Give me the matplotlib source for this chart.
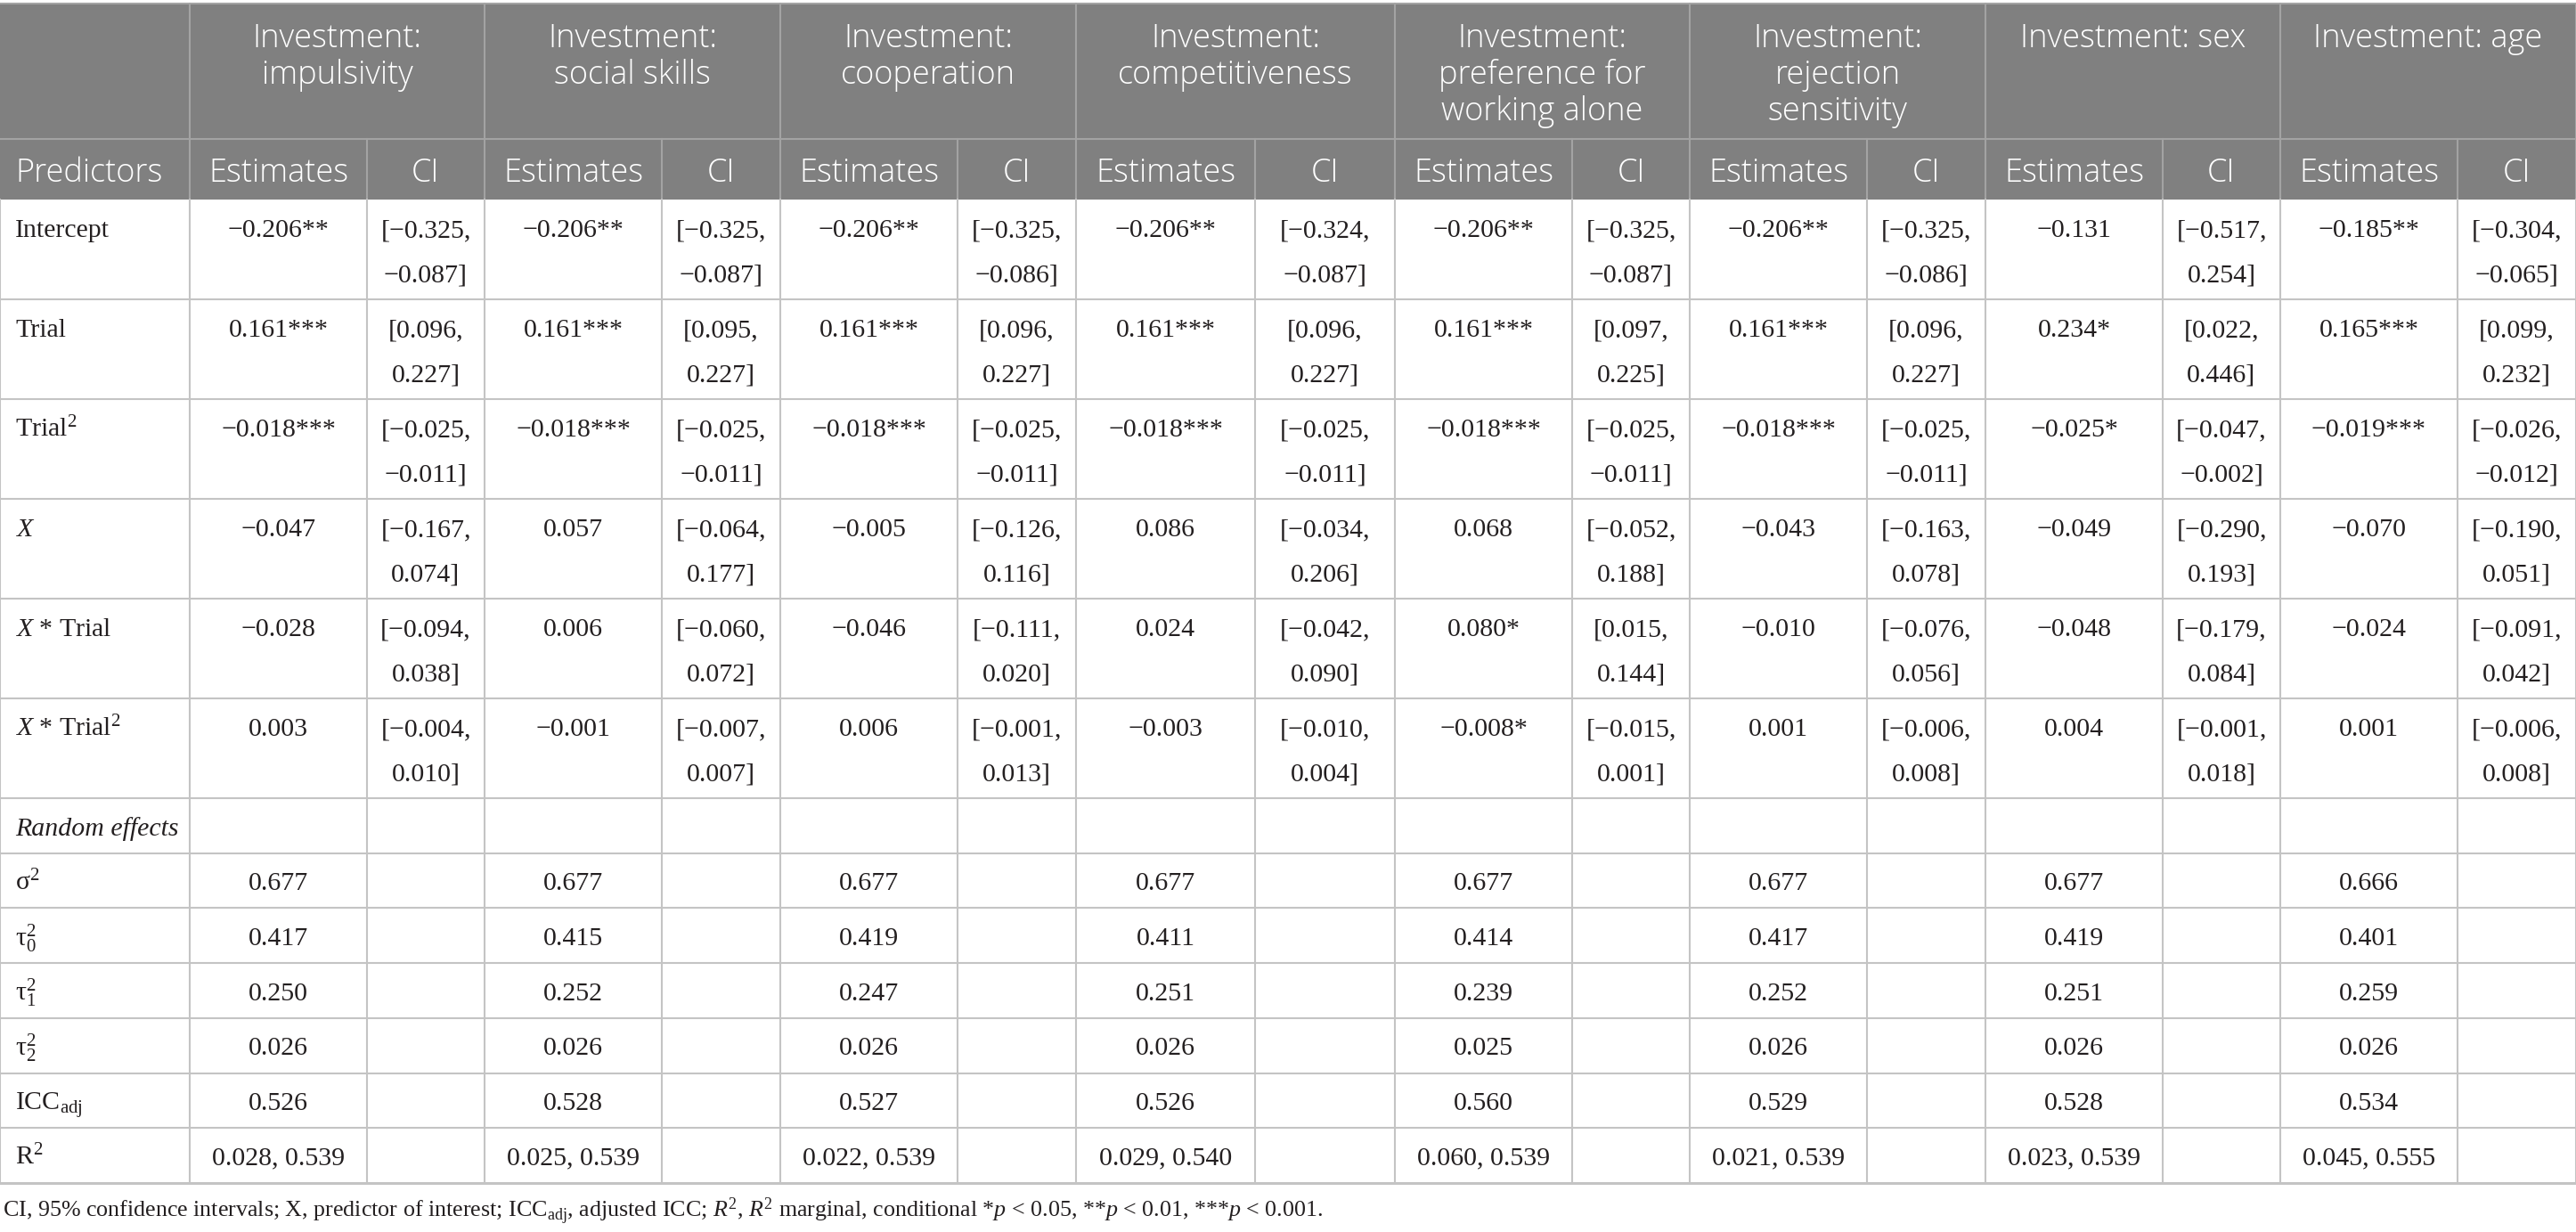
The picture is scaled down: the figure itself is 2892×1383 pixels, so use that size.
import matplotlib
matplotlib.use("Agg")
import matplotlib.pyplot as plt
from matplotlib.patches import Rectangle

plt.rcParams['mathtext.fontset'] = 'custom'
plt.rcParams['mathtext.rm'] = 'Liberation Serif'
plt.rcParams['mathtext.it'] = 'Liberation Serif:italic'
plt.rcParams['mathtext.bf'] = 'Liberation Serif:bold'

# ---------------- data ----------------
groups = [
    ["Investment:", "impulsivity"],
    ["Investment:", "social skills"],
    ["Investment:", "cooperation"],
    ["Investment:", "competitiveness"],
    ["Investment:", "preference for", "working alone"],
    ["Investment:", "rejection", "sensitivity"],
    ["Investment: sex"],
    ["Investment: age"],
]
fixed_labels = ["Intercept", "Trial", "Trial$^2$", "$X$", "$X$ * Trial", "$X$ * Trial$^2$"]

est_intercept = ["−0.206**", "−0.206**", "−0.206**", "−0.206**", "−0.206**", "−0.206**", "−0.131", "−0.185**"]
ci_intercept = [("−0.325", "−0.087"), ("−0.325", "−0.087"), ("−0.325", "−0.086"), ("−0.324", "−0.087"),
                ("−0.325", "−0.087"), ("−0.325", "−0.086"), ("−0.517", "0.254"), ("−0.304", "−0.065")]
est_trial = ["0.161***", "0.161***", "0.161***", "0.161***", "0.161***", "0.161***", "0.234*", "0.165***"]
ci_trial = [("0.096", "0.227"), ("0.095", "0.227"), ("0.096", "0.227"), ("0.096", "0.227"),
            ("0.097", "0.225"), ("0.096", "0.227"), ("0.022", "0.446"), ("0.099", "0.232")]
est_trial2 = ["−0.018***", "−0.018***", "−0.018***", "−0.018***", "−0.018***", "−0.018***", "−0.025*", "−0.019***"]
ci_trial2 = [("−0.025", "−0.011")] * 6 + [("−0.047", "−0.002"), ("−0.026", "−0.012")]
est_x = ["−0.047", "0.057", "−0.005", "0.086", "0.068", "−0.043", "−0.049", "−0.070"]
ci_x = [("−0.167", "0.074"), ("−0.064", "0.177"), ("−0.126", "0.116"), ("−0.034", "0.206"),
        ("−0.052", "0.188"), ("−0.163", "0.078"), ("−0.290", "0.193"), ("−0.190", "0.051")]
est_x_trial = ["−0.028", "0.006", "−0.046", "0.024", "0.080*", "−0.010", "−0.048", "−0.024"]
ci_x_trial = [("−0.094", "0.038"), ("−0.060", "0.072"), ("−0.111", "0.020"), ("−0.042", "0.090"),
              ("0.015", "0.144"), ("−0.076", "0.056"), ("−0.179", "0.084"), ("−0.091", "0.042")]
est_x_trial2 = ["0.003", "−0.001", "0.006", "−0.003", "−0.008*", "0.001", "0.004", "0.001"]
ci_x_trial2 = [("−0.004", "0.010"), ("−0.007", "0.007"), ("−0.001", "0.013"), ("−0.010", "0.004"),
               ("−0.015", "0.001"), ("−0.006", "0.008"), ("−0.001", "0.018"), ("−0.006", "0.008")]

random_labels = ["σ$^2$", "τ$_0^2$", "τ$_1^2$", "τ$_2^2$", "ICC$_\\mathrm{adj}$", "R$^2$"]
sigma2 = ["0.677", "0.677", "0.677", "0.677", "0.677", "0.677", "0.677", "0.666"]
tau0 = ["0.417", "0.415", "0.419", "0.411", "0.414", "0.417", "0.419", "0.401"]
tau1 = ["0.250", "0.252", "0.247", "0.251", "0.239", "0.252", "0.251", "0.259"]
tau2 = ["0.026", "0.026", "0.026", "0.026", "0.025", "0.026", "0.026", "0.026"]
icc_adj = ["0.526", "0.528", "0.527", "0.526", "0.560", "0.529", "0.528", "0.534"]
r2 = ["0.028, 0.539", "0.025, 0.539", "0.022, 0.539", "0.029, 0.540",
      "0.060, 0.539", "0.021, 0.539", "0.023, 0.539", "0.045, 0.555"]

footnote = ("CI, 95% confidence intervals; X, predictor of interest; ICC$_\\mathrm{adj}$, adjusted ICC; "
            "$R^2$, $R^2$ marginal, conditional *$p$ < 0.05, **$p$ < 0.01, ***$p$ < 0.001.")

fixed_est = [est_intercept, est_trial, est_trial2, est_x, est_x_trial, est_x_trial2]
fixed_ci = [ci_intercept, ci_trial, ci_trial2, ci_x, ci_x_trial, ci_x_trial2]
random_vals = [sigma2, tau0, tau1, tau2, icc_adj, r2]

# ---------------- layout ----------------
W, H = 2892, 1383
col_edges = [0, 213, 412, 544, 743, 876, 1075, 1208, 1409, 1566, 1765, 1897, 2096, 2229, 2428, 2560, 2759, 2892]
y_top, y_head, y_sub = 4, 156, 224
fixed_h, single_h = 112, 61.7

HEAD_BG = "#808080"
HEAD_LINE = "#a3a3a3"
GRID = "#c4c4c4"
TXT = "#231f20"

serif = "Liberation Serif"
sans = "Open Sans"
body_fs = 21.5
head_fs = 26
head_w = 300
foot_fs = 18.7

fig = plt.figure(figsize=(W / 100, H / 100), dpi=100)
ax = fig.add_axes([0, 0, 1, 1])
ax.set_xlim(0, W)
ax.set_ylim(H, 0)
ax.axis("off")

# header background
ax.add_patch(Rectangle((0, y_top), W, y_sub - y_top, facecolor=HEAD_BG, edgecolor="none", zorder=0))

# group headers
for gi, lines in enumerate(groups):
    x0 = col_edges[1 + 2 * gi]
    x1 = col_edges[3 + 2 * gi]
    for li, t in enumerate(lines):
        ax.text((x0 + x1) / 2, 53 + 41 * li, t, color="white", fontsize=head_fs, family=sans,
                fontweight=head_w, ha="center", va="baseline", zorder=3)

# sub headers
ax.text(17, 204, "Predictors", color="white", fontsize=head_fs, family=sans, fontweight=head_w,
        ha="left", va="baseline", zorder=3)
for gi in range(len(groups)):
    e0, e1, e2 = col_edges[1 + 2 * gi], col_edges[2 + 2 * gi], col_edges[3 + 2 * gi]
    ax.text((e0 + e1) / 2, 204, "Estimates", color="white", fontsize=head_fs, family=sans,
            fontweight=head_w, ha="center", va="baseline", zorder=3)
    ax.text((e1 + e2) / 2, 204, "CI", color="white", fontsize=head_fs, family=sans,
            fontweight=head_w, ha="center", va="baseline", zorder=3)

# header lines
ax.plot([0, W], [y_top, y_top], color=HEAD_LINE, lw=1.5, zorder=2)
ax.plot([0, W], [y_head, y_head], color=HEAD_LINE, lw=1.5, zorder=2)
for gi in range(len(groups) + 1):
    xe = col_edges[1 + 2 * gi] if gi < len(groups) else col_edges[-1]
    ax.plot([xe, xe], [y_top, y_sub], color=HEAD_LINE, lw=1.5, zorder=2)
for gi in range(len(groups)):
    xe = col_edges[2 + 2 * gi]
    ax.plot([xe, xe], [y_head, y_sub], color=HEAD_LINE, lw=1.5, zorder=2)

# body rows
row_tops = [y_sub + fixed_h * i for i in range(len(fixed_labels) + 1)]
y_rand = row_tops[-1]
for i in range(len(random_labels) + 1):
    row_tops.append(y_rand + single_h * (i + 1))

for ri, lab in enumerate(fixed_labels):
    top = row_tops[ri]
    ax.text(17, top + 42, lab, color=TXT, fontsize=body_fs, family=serif, ha="left", va="baseline")
    for gi in range(len(groups)):
        e0, e1, e2 = col_edges[1 + 2 * gi], col_edges[2 + 2 * gi], col_edges[3 + 2 * gi]
        ax.text((e0 + e1) / 2, top + 42, fixed_est[ri][gi], color=TXT, fontsize=body_fs,
                family=serif, ha="center", va="baseline")
        lo, hi = fixed_ci[ri][gi]
        ax.text((e1 + e2) / 2, top + 42, "[" + lo + ",", color=TXT, fontsize=body_fs,
                family=serif, ha="center", va="baseline")
        ax.text((e1 + e2) / 2, top + 92.5, hi + "]", color=TXT, fontsize=body_fs,
                family=serif, ha="center", va="baseline")

# random effects label row
ax.text(17, y_rand + 41.5, "Random effects", color=TXT, fontsize=body_fs, family=serif,
        style="italic", ha="left", va="baseline")

for ri, lab in enumerate(random_labels):
    top = row_tops[len(fixed_labels) + 1 + ri]
    ax.text(17, top + 41.5, lab, color=TXT, fontsize=body_fs, family=serif, ha="left", va="baseline")
    for gi in range(len(groups)):
        e0, e1 = col_edges[1 + 2 * gi], col_edges[2 + 2 * gi]
        ax.text((e0 + e1) / 2, top + 41.5, random_vals[ri][gi], color=TXT, fontsize=body_fs,
                family=serif, ha="center", va="baseline")

# body grid
y_bottom = row_tops[-1]
for yl in row_tops[1:-1]:
    ax.plot([0, W], [yl, yl], color=GRID, lw=1.5, zorder=2)
ax.plot([0, W], [y_bottom, y_bottom], color=GRID, lw=2.2, zorder=2)
for xe in col_edges:
    ax.plot([xe, xe], [y_sub, y_bottom], color=GRID, lw=1.5, zorder=2)

# footnote
ax.text(3, 1366.5, footnote, color=TXT, fontsize=foot_fs, family=serif, ha="left", va="baseline")

fig.savefig("out.png", dpi=100)
